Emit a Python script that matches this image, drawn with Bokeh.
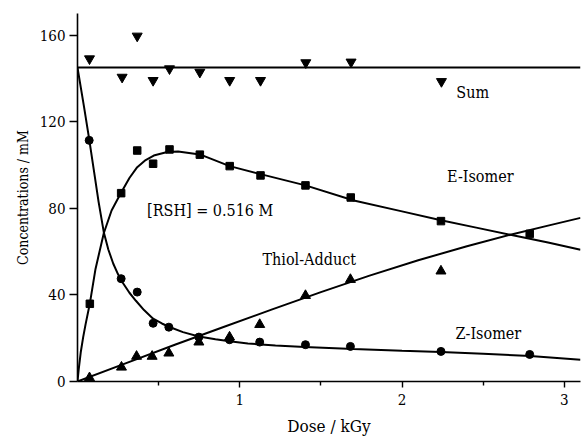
from bokeh.plotting import figure
from bokeh.models import FixedTicker, Label, Range1d
from bokeh.embed import file_html
from bokeh.resources import INLINE

# ---- data (dose in kGy, concentrations in mM) ----
sum_dose = [0.074, 0.275, 0.368, 0.466, 0.567, 0.754, 0.938, 1.128, 1.407, 1.686, 2.243]
sum_conc = [149.1, 140.6, 159.6, 139.1, 144.5, 142.9, 139.1, 139.1, 147.3, 147.6, 138.6]

e_dose = [0.076, 0.269, 0.368, 0.466, 0.567, 0.754, 0.938, 1.128, 1.405, 1.684, 2.240, 2.787]
e_conc = [35.9, 87.0, 106.7, 100.6, 107.2, 104.8, 99.5, 95.2, 90.6, 85.0, 74.1, 68.2]

z_dose = [0.072, 0.269, 0.368, 0.466, 0.563, 0.748, 0.937, 1.123, 1.405, 1.682, 2.240, 2.787]
z_conc = [111.4, 47.5, 41.3, 26.9, 25.1, 20.5, 19.3, 18.2, 17.0, 16.2, 13.9, 12.5]

t_dose = [0.074, 0.271, 0.364, 0.460, 0.563, 0.748, 0.937, 1.123, 1.405, 1.682, 2.240]
t_conc = [1.7, 6.6, 11.6, 11.6, 13.1, 18.2, 20.5, 26.3, 39.7, 47.1, 51.0]

# fitted curves
sum_fit_x = [0.0, 3.1]
sum_fit_y = [145.0, 145.0]

e_fit_x = [0.0, 0.008, 0.02, 0.035, 0.05, 0.076, 0.111, 0.162, 0.21, 0.265, 0.32, 0.368, 0.42, 0.47,
           0.553, 0.62, 0.754, 0.938, 1.128, 1.405, 1.703, 2.0, 2.24, 2.45, 2.668, 2.9, 3.1]
e_fit_y = [0.0, 6.0, 13.5, 20.5, 26.5, 36.0, 52.0, 68.5, 79.0, 86.7, 94.0, 99.0, 102.3, 104.4,
           106.0, 106.3, 104.9, 99.5, 95.8, 90.6, 83.6, 78.6, 74.5, 71.2, 67.8, 64.2, 60.9]

z_fit_x = [0.0, 0.04, 0.072, 0.1, 0.13, 0.162, 0.19, 0.22, 0.25, 0.28, 0.32, 0.36, 0.41, 0.466, 0.52,
           0.563, 0.65, 0.748, 0.85, 0.937, 1.05, 1.22, 1.4, 1.7, 2.0, 2.24, 2.5, 2.79, 3.1]
z_fit_y = [145.0, 127.0, 112.0, 98.0, 83.0, 69.0, 61.0, 54.5, 49.5, 45.5, 41.0, 37.3, 33.0, 29.0, 26.8,
           25.3, 22.8, 20.8, 19.5, 18.6, 17.6, 16.6, 15.9, 15.0, 14.2, 13.6, 12.8, 11.8, 10.0]

t_fit_x = [0.0, 0.3, 0.6, 0.9, 1.2, 1.5, 1.8, 2.1, 2.4, 2.668, 2.9, 3.1]
t_fit_y = [0.0, 8.5, 17.0, 25.2, 33.3, 41.3, 48.9, 56.0, 62.5, 67.8, 72.0, 75.6]

x_ticks = [1, 2, 3]
x_minor = [0.5, 1.5, 2.5]
y_ticks = [0, 40, 80, 120, 160]

FONT = "DejaVu Serif Condensed"

p = figure(width=582, height=438, output_backend="svg", toolbar_location=None,
           x_range=Range1d(0, 3.1), y_range=Range1d(0, 170),
           min_border_left=77, min_border_right=2, min_border_top=13, min_border_bottom=57)
p.outline_line_color = None
p.xgrid.visible = False
p.ygrid.visible = False
p.background_fill_color = "white"
p.border_fill_color = "white"

for ax in (p.xaxis[0], p.yaxis[0]):
    ax.axis_line_width = 1.6
    ax.axis_line_color = "black"
    ax.major_tick_line_color = "black"
    ax.major_tick_line_width = 1.4
    ax.major_tick_in = 0
    ax.minor_tick_in = 0
    ax.major_label_text_font = FONT
    ax.major_label_text_font_size = "15px"
    ax.major_label_text_color = "black"
    ax.axis_label_text_font = FONT
    ax.axis_label_text_font_style = "normal"
    ax.axis_label_text_color = "black"

p.xaxis[0].ticker = FixedTicker(ticks=x_ticks, minor_ticks=x_minor)
p.xaxis[0].major_tick_out = 6
p.xaxis[0].minor_tick_out = 4
p.xaxis[0].minor_tick_line_color = "black"
p.xaxis[0].minor_tick_line_width = 1.4
p.xaxis[0].major_label_standoff = 6
p.xaxis[0].axis_label = "Dose / kGy"
p.xaxis[0].axis_label_text_font_size = "17px"
p.xaxis[0].axis_label_standoff = 8

p.yaxis[0].ticker = FixedTicker(ticks=y_ticks, minor_ticks=[])
p.yaxis[0].major_tick_out = 8
p.yaxis[0].minor_tick_line_color = None
p.yaxis[0].major_label_standoff = 4
p.yaxis[0].axis_label = "Concentrations / mM"
p.yaxis[0].axis_label_text_font_size = "14px"
p.yaxis[0].axis_label_standoff = 6

# curves
for xs, ys in ((sum_fit_x, sum_fit_y), (e_fit_x, e_fit_y), (z_fit_x, z_fit_y), (t_fit_x, t_fit_y)):
    p.line(xs, ys, line_color="black", line_width=2)

# data points
p.scatter(sum_dose, sum_conc, marker="inverted_triangle", size=10, color="black")
p.scatter(e_dose, e_conc, marker="square", size=7.5, color="black")
p.scatter(z_dose, z_conc, marker="circle", size=8, color="black")
p.scatter(t_dose, t_conc, marker="triangle", size=10, color="black")

# annotations
labels = [("Sum", 2.335, 133.7), ("E-Isomer", 2.278, 94.9), ("Thiol-Adduct", 1.14, 56.2),
          ("Z-Isomer", 2.33, 22.0), ("[RSH] = 0.516 M", 0.429, 79.0)]
for txt, lx, ly in labels:
    p.add_layout(Label(x=lx, y=ly, text=txt, text_font=FONT, text_font_size="16px",
                       text_color="black", text_align="left", text_baseline="middle"))

open("out.html", "w").write(file_html(p, INLINE))
